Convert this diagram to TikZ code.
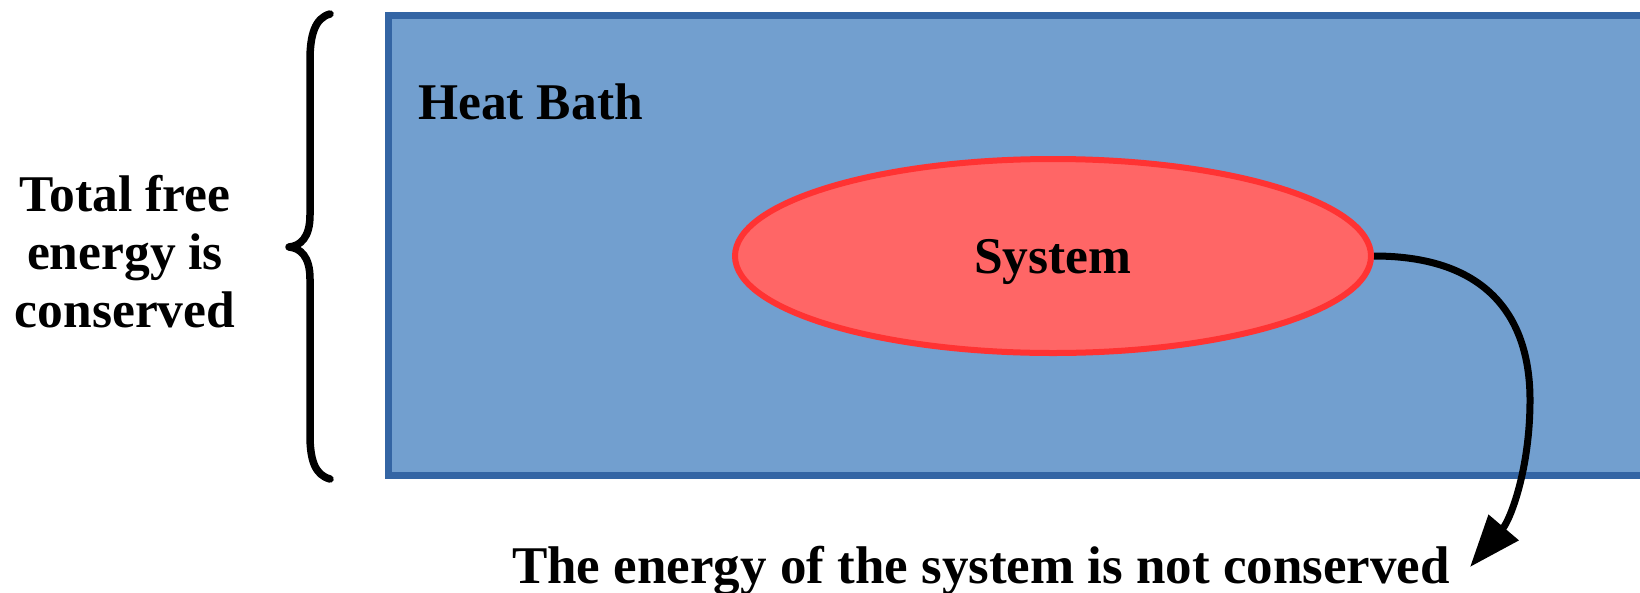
\documentclass[tikz,border=0pt]{standalone}
\usepackage{fontspec}
\setmainfont{Liberation Serif}
\usetikzlibrary{shapes.geometric,arrows.meta}
\definecolor{bathfill}{HTML}{729FCF}
\definecolor{bathline}{HTML}{3465A4}
\definecolor{sysfill}{HTML}{FF6666}
\definecolor{sysline}{HTML}{FF3333}
\begin{document}
\begin{tikzpicture}[%
    x=1pt,
    y=-1pt,
    >={Triangle[length=52pt,width=38pt]},
    txt/.style={font=\bfseries\fontsize{51.5}{58}\selectfont, inner sep=0pt},
    bath/.style={draw=bathline, fill=bathfill, line width=7pt},
    system/.style={ellipse, draw=sysline, fill=sysfill, line width=6pt,
                   minimum width=636pt, minimum height=194pt, text depth=0pt},
    brace/.style={line width=7.5pt, line cap=round, line join=round}
  ]
  \useasboundingbox (0,0) rectangle (1640,592);

  % heat bath
  \draw[bath] (388,15) rectangle (1680,475);
  \node[txt, anchor=base west] (HB) at (418,119) {Heat Bath};

  % system
  \node[system, txt] (SYS) at (1053,256) {System};

  % brace and total energy
  \draw[brace] (330,14) .. controls (315,18) and (310,35) .. (310,60)
    -- (310,215) .. controls (310,238) and (300,246) .. (289,247)
    .. controls (300,248) and (310,256) .. (310,279)
    -- (310,435) .. controls (310,460) and (315,475) .. (330,479);
  \node[txt, align=center] (TFE) at (125,252) {Total free\\energy is\\conserved};

  % not conserved
  \node[txt, anchor=base, font=\bfseries\fontsize{53}{60}\selectfont] (NC) at (981,583)
    {The energy of the system is not conserved};
  \coordinate (tip) at (1470,567);
  \draw[->, line width=7pt] (SYS.east) .. controls (1490,256) and (1530,320) .. (1530,400)
    .. controls (1530,470) and (1510,520) .. (tip);
\end{tikzpicture}
\end{document}
